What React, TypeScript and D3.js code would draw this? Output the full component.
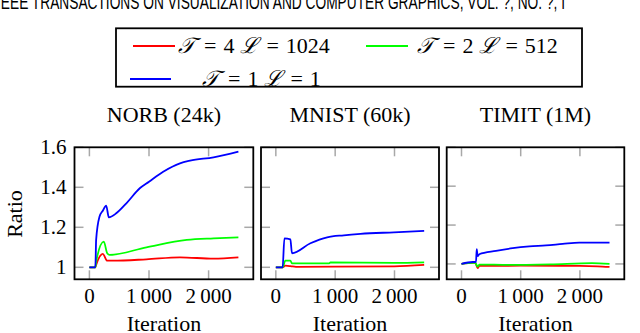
import React from 'react';
import * as d3 from 'd3';

// iteration, ratio pairs
const norbRed: [number, number][] = [[0, 1], [100, 1], [113, 1.012], [225, 1.067], [299, 1.033], [394, 1.033], [957, 1.04], [1520, 1.05], [2083, 1.043], [2500, 1.05]];
const norbGreen: [number, number][] = [[0, 1], [100, 1], [113, 1.028], [242, 1.128], [299, 1.07], [338, 1.062], [957, 1.1], [1633, 1.137], [2083, 1.145], [2500, 1.15]];
const norbBlue: [number, number][] = [[0, 1], [100, 1], [113, 1.137], [169, 1.253], [225, 1.283], [282, 1.308], [326, 1.25], [451, 1.27], [620, 1.32], [845, 1.395], [1000, 1.428], [1238, 1.478], [1520, 1.52], [1689, 1.533], [2083, 1.55], [2500, 1.578]];

const mnistRed: [number, number][] = [[0, 1], [115, 1], [160, 1.008], [245, 1.006], [340, 1.002], [1000, 1.003], [2000, 1.005], [2500, 1.012]];
const mnistGreen: [number, number][] = [[0, 1], [115, 1], [160, 1.033], [245, 1.033], [272, 1.02], [900, 1.02], [920, 1.024], [2000, 1.022], [2500, 1.025]];
const mnistBlue: [number, number][] = [[0, 1], [115, 1], [144, 1.145], [245, 1.14], [272, 1.07], [583, 1.12], [865, 1.15], [1146, 1.16], [1427, 1.167], [1990, 1.175], [2500, 1.182]];

const timitRed: [number, number][] = [[0, 1], [190, 1.005], [233, 1.005], [273, 0.978], [300, 0.99], [1000, 0.991], [2000, 0.99], [2300, 0.988], [2500, 0.985]];
const timitGreen: [number, number][] = [[0, 1], [190, 1.005], [233, 1.005], [273, 0.986], [300, 0.997], [800, 0.995], [1500, 0.998], [2200, 1.004], [2500, 1.0]];
const timitBlue: [number, number][] = [[0, 1], [190, 1.01], [245, 1.01], [257, 1.076], [273, 1.04], [300, 1.05], [583, 1.067], [865, 1.081], [1146, 1.09], [1427, 1.095], [1709, 1.103], [1990, 1.11], [2500, 1.11]];

const panelTitles = ['NORB (24k)', 'MNIST (60k)', 'TIMIT (1M)'];
const xTicks = [0, 1000, 2000];
const yTicks = [1, 1.2, 1.4, 1.6];
const seriesColors = ['#ff0000', '#00ff00', '#0000ff'];

const panels = [
  { title: panelTitles[0], left: 74.5, right: 253.3, ymin: 0.94, series: [norbRed, norbGreen, norbBlue] },
  { title: panelTitles[1], left: 261, right: 439, ymin: 0.94, series: [mnistRed, mnistGreen, mnistBlue] },
  { title: panelTitles[2], left: 446.7, right: 624.3, ymin: 0.921, series: [timitRed, timitGreen, timitBlue] },
];

const TOP = 147.3;
const BOTTOM = 279.3;
const serif = '"Liberation Serif", serif';

const fmtTick = (v: number) => (v >= 1000 ? d3.format(',')(v).replace(',', '\u2009') : String(v));

function Panel({ p, idx }: { p: typeof panels[0]; idx: number }) {
  const x = d3.scaleLinear().domain([-250, 2750]).range([p.left, p.right]);
  const y = d3.scaleLinear().domain([p.ymin, 1.6]).range([BOTTOM, TOP]);
  const line = d3.line<[number, number]>().x(d => x(d[0])).y(d => y(d[1])).curve(d3.curveMonotoneX);
  const tl = 9;
  const cx = (p.left + p.right) / 2;
  return (
    <g>
      <text x={cx} y={122} textAnchor="middle" fontFamily={serif} fontSize={22}>{p.title}</text>
      {xTicks.map(t => (
        <g key={'x' + t}>
          <line x1={x(t)} x2={x(t)} y1={BOTTOM} y2={BOTTOM - tl} stroke="#a8a8a8" strokeWidth={1.5} />
          <line x1={x(t)} x2={x(t)} y1={TOP} y2={TOP + tl} stroke="#a8a8a8" strokeWidth={1.5} />
          <text x={x(t)} y={303} textAnchor="middle" fontFamily={serif} fontSize={21}>{fmtTick(t)}</text>
        </g>
      ))}
      {yTicks.map(t => (
        <g key={'y' + t}>
          <line x1={p.left} x2={p.left + tl} y1={y(t)} y2={y(t)} stroke="#a8a8a8" strokeWidth={1.5} />
          <line x1={p.right} x2={p.right - tl} y1={y(t)} y2={y(t)} stroke="#a8a8a8" strokeWidth={1.5} />
          {idx === 0 && (
            <text x={p.left - 8} y={y(t) + 7} textAnchor="end" fontFamily={serif} fontSize={21}>{String(t)}</text>
          )}
        </g>
      ))}
      {p.series.map((s, i) => (
        <path key={i} d={line(s) || ''} fill="none" stroke={seriesColors[i]} strokeWidth={1.8} strokeLinejoin="round" />
      ))}
      <rect x={p.left} y={TOP} width={p.right - p.left} height={BOTTOM - TOP} fill="none" stroke="#000" strokeWidth={1.8} />
      <text x={cx} y={331} textAnchor="middle" fontFamily={serif} fontSize={22}>Iteration</text>
    </g>
  );
}

function LegendLabel({ x, y, t, l }: { x: number; y: number; t: string; l: string }) {
  return (
    <text x={x} y={y} fontFamily={serif} fontSize={22}>
      <tspan fontStyle="italic">𝒯</tspan>
      <tspan dx={9}>=</tspan>
      <tspan dx={7}>{t}</tspan>
      <tspan dx={6} fontStyle="italic">ℒ</tspan>
      <tspan dx={8}>=</tspan>
      <tspan dx={7}>{l}</tspan>
    </text>
  );
}

export default function App() {
  return (
    <svg width={640} height={333} style={{ position: 'absolute', left: 0, top: 0, background: '#fff' }}>
      <text x={-3} y={9} fontFamily='"Liberation Sans", sans-serif' fontSize={20} textLength={568} lengthAdjust="spacingAndGlyphs">
        IEEE TRANSACTIONS ON VISUALIZATION AND COMPUTER GRAPHICS, VOL. ?, NO. ?, I
      </text>
      <rect x={116} y={28.3} width={466} height={58.4} fill="#fff" stroke="#000" strokeWidth={1.8} />
      <line x1={133} x2={175} y1={46} y2={46} stroke={seriesColors[0]} strokeWidth={2} />
      <LegendLabel x={178} y={53} t="4" l="1024" />
      <line x1={366} x2={408} y1={46} y2={46} stroke={seriesColors[1]} strokeWidth={2} />
      <LegendLabel x={417} y={53} t="2" l="512" />
      <line x1={130} x2={171} y1={79} y2={79} stroke={seriesColors[2]} strokeWidth={2} />
      <LegendLabel x={202} y={85.5} t="1" l="1" />
      <text transform="translate(22,214) rotate(-90)" textAnchor="middle" fontFamily={serif} fontSize={22}>Ratio</text>
      {panels.map((p, i) => <Panel key={i} p={p} idx={i} />)}
    </svg>
  );
}
